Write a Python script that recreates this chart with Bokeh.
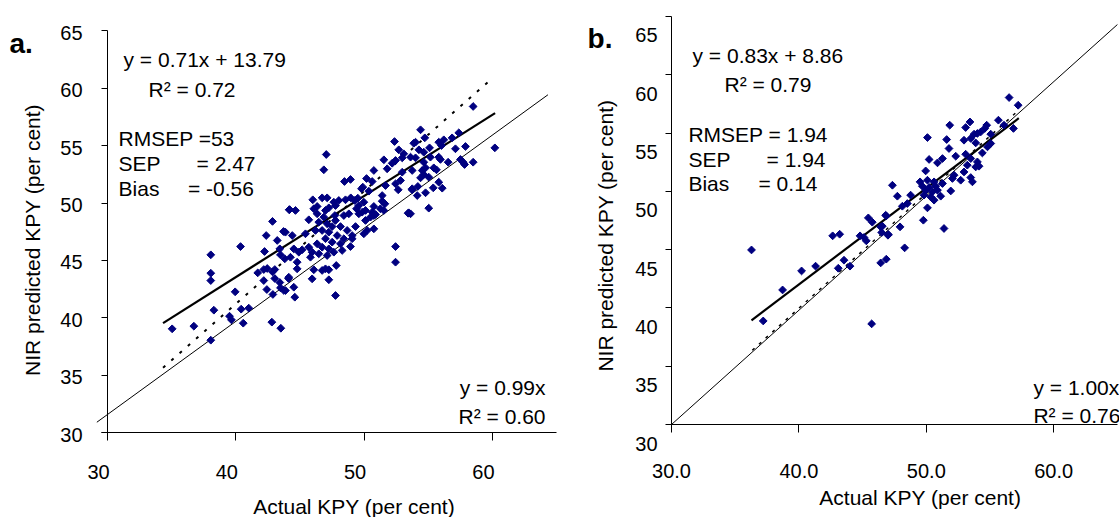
import numpy as np
from bokeh.plotting import figure
from bokeh.layouts import row
from bokeh.models import Range1d, FixedTicker
from bokeh.core.properties import value
from bokeh.embed import file_html
from bokeh.resources import INLINE

FONT = "Liberation Sans"
FS = "20px"      # tick labels
FT = "21px"      # annotations and axis titles
NAVY = "#000080"

# ---------------- Panel a data (Actual KPY, NIR predicted KPY) ----------------
a_actual = [
    35.04, 36.73, 38.05, 38.05, 38.05, 38.05, 38.29, 40.37, 39.95, 40.42, 41.01, 39.51, 39.66, 40.58,
    42.86, 42.37, 43.72, 43.23, 42.24, 43.43, 43.48, 43.82, 41.71, 42.18, 42.45, 43.04, 42.86, 42.18,
    43.04, 43.43, 42.42, 42.89, 43.48, 43.74, 44.11, 42.81, 43.51, 44.16,
    52.37, 47.05, 46.86, 53.87, 52.70, 53.09, 52.97, 52.45, 52.19, 51.54, 51.80, 50.76, 52.97, 48.94,
    48.47, 50.19, 50.63, 51.67, 52.45, 52.84, 52.66, 53.74, 49.90, 49.80, 50.37, 49.51, 48.96, 48.55,
    48.03, 47.64, 47.12, 46.73, 46.00, 47.77, 47.25, 46.34, 46.08, 44.19, 44.65, 49.59, 49.98, 50.11,
    50.76, 51.41, 51.62, 51.27, 50.63, 50.50, 50.89, 49.85, 49.41, 45.69, 46.34, 46.86, 46.99, 47.72,
    48.42, 48.81, 46.47, 47.12, 47.51, 48.16, 48.68, 49.33, 50.24, 50.76, 49.98, 49.07, 47.90, 47.25,
    46.73, 46.21, 45.43, 44.40, 43.87, 46.99, 47.51, 48.42, 48.16, 46.34, 45.69, 45.17, 44.52, 44.91,
    45.95, 46.73, 47.25, 46.47, 47.12, 47.64, 48.29, 48.94, 49.07, 44.26, 45.82, 44.78, 46.73, 46.99,
    47.25, 46.08, 44.78, 44.13, 45.95, 47.25, 47.83, 44.52, 44.60, 47.77, 43.87, 49.27, 47.77, 52.45,
    52.45, 53.43, 49.59, 50.11, 51.41, 50.76, 51.54,
    58.50, 54.40, 57.38, 54.73, 54.01, 55.82, 56.21, 56.86, 56.03, 55.10, 54.27, 54.65, 57.90, 57.12,
    60.19, 53.62, 54.01, 54.65, 55.17, 55.82, 55.95, 56.55, 57.51, 57.72, 57.83, 58.50, 53.75, 54.53,
    54.79, 55.43, 55.64, 54.65, 54.40, 55.04, 55.82, 53.75, 54.19, 55.39, 56.09, 54.79, 54.14, 55.04,
    53.62, 53.48,
]
a_predicted = [
    39.05, 39.28, 38.06, 45.49, 43.89, 43.25, 40.67, 46.21, 42.27, 40.76, 40.85, 40.15, 39.83, 39.54,
    48.40, 47.17, 47.52, 46.74, 45.78, 46.01, 45.49, 45.14, 43.92, 44.21, 44.30, 44.21, 44.01, 43.25,
    43.43, 43.08, 42.47, 42.04, 42.62, 42.39, 43.43, 39.63, 39.10, 49.41,
    55.35, 54.22, 52.89, 55.20, 54.63, 54.28, 53.93, 53.70, 53.46, 53.76, 52.98, 52.83, 52.68, 52.05,
    51.87, 52.13, 51.87, 51.52, 51.67, 51.96, 51.15, 51.15, 51.38, 51.24, 51.03, 50.42, 50.45, 50.28,
    50.22, 50.07, 50.45, 50.45, 50.28, 49.78, 49.58, 49.70, 49.50, 49.43, 49.35, 49.78, 50.07, 49.35,
    49.70, 50.16, 49.93, 49.50, 49.20, 48.77, 49.00, 49.20, 49.50, 48.54, 49.06, 48.77, 49.35, 48.91,
    48.91, 49.06, 48.33, 48.19, 47.95, 47.95, 47.61, 47.95, 47.61, 47.75, 47.32, 47.17, 47.17, 47.46,
    47.61, 47.61, 47.32, 47.17, 47.46, 46.89, 46.59, 46.89, 46.45, 46.45, 46.15, 45.93, 46.01, 45.72,
    45.72, 46.15, 46.01, 45.58, 45.43, 45.72, 45.87, 46.21, 46.89, 45.28, 45.28, 44.85, 44.13, 44.27,
    44.19, 44.19, 44.27, 43.54, 43.40, 43.32, 44.56, 42.67, 41.80, 41.95, 42.38, 50.22, 48.48, 46.21,
    44.85, 49.11, 49.06, 48.48, 50.65, 48.91, 49.35,
    58.40, 56.37, 56.11, 55.67, 55.29, 55.29, 55.50, 55.67, 55.00, 54.80, 54.63, 54.42, 54.92, 54.72,
    54.80, 53.99, 53.93, 53.55, 53.99, 53.99, 53.79, 53.55, 53.79, 53.55, 53.35, 53.55, 52.83, 52.83,
    53.06, 53.06, 52.89, 52.48, 52.19, 52.25, 51.81, 51.24, 51.44, 51.32, 51.29, 50.89, 50.65, 49.55,
    49.06, 49.15,
]

# fitted / reference lines of panel a (end points, data units)
a_fit_x = [34.33, 60.21]
a_fit_y = [39.54, 57.82]
a_dot_x = [34.33, 59.80]
a_dot_y = [35.66, 60.66]
a_one_x = [29.17, 64.33]
a_one_y = [30.92, 59.42]

# ---------------- Panel b data ----------------
b_actual = [
    36.28, 37.20, 38.72, 40.21, 41.31, 42.65, 43.20, 43.09, 43.54, 44.01, 44.80, 45.11, 45.29, 45.45,
    45.76, 45.71, 46.42, 46.86, 46.55, 46.50, 46.86, 47.02,
    56.50, 57.21, 55.66, 56.84, 56.10, 53.43, 53.09, 51.84, 54.74, 54.59, 54.01, 53.75, 53.49, 54.27,
    55.06, 52.96, 53.88, 55.06, 54.80, 50.09, 51.60, 51.78, 54.40, 52.31, 53.09, 53.49, 50.22, 51.27,
    50.88, 54.01, 53.22, 53.88, 54.14, 49.95, 52.96, 53.49, 53.62, 52.18, 52.05, 52.70, 51.27, 49.51,
    50.09, 50.61, 47.34, 49.69, 50.22, 50.74, 49.95, 50.48, 50.88, 51.92, 47.73, 48.77, 50.35, 51.13,
    50.61, 49.82, 48.12, 48.51, 50.09, 46.81, 46.42, 46.99, 47.94, 49.77, 51.39, 48.30,
]
b_predicted = [
    44.97, 38.88, 41.54, 43.17, 43.58, 46.18, 46.32, 43.40, 44.09, 43.58, 46.18, 46.04, 45.75, 47.72,
    47.35, 38.63, 43.86, 44.18, 47.01, 46.47, 47.89, 46.30,
    58.04, 57.38, 56.10, 55.39, 55.67, 55.95, 55.47, 55.67, 55.67, 55.39, 54.96, 54.90, 54.53, 55.09,
    54.90, 54.38, 54.15, 54.10, 53.81, 54.61, 54.44, 53.67, 53.29, 53.01, 53.18, 52.81, 52.73, 52.81,
    52.44, 52.52, 52.24, 52.09, 52.15, 51.75, 51.66, 51.18, 50.81, 51.38, 51.10, 50.95, 50.67, 50.81,
    50.95, 50.81, 50.52, 50.44, 50.33, 50.44, 50.09, 49.95, 50.09, 50.03, 49.58, 49.67, 49.52, 49.58,
    49.24, 49.67, 48.72, 48.95, 48.58, 47.95, 46.95, 46.23, 46.95, 47.52, 46.81, 45.15,
]

b_fit_x = [36.28, 57.26]
b_fit_y = [38.94, 56.27]
b_dot_x = [36.34, 57.26]
b_dot_y = [36.37, 56.96]
b_one_x = [30.0, 65.0]
b_one_y = [30.0, 64.3]

# ticks
y_ticks = [30, 35, 40, 45, 50, 55, 60, 65]
x_ticks = [30, 40, 50, 60]
a_xtick_labels = ["30", "40", "50", "60"]
a_ytick_labels = ["30", "35", "40", "45", "50", "55", "60", "65"]
b_xtick_labels = ["30.0", "40.0", "50.0", "60.0"]
b_ytick_labels = ["30", "35", "40", "45", "50", "55", "60", "65"]

x_title = "Actual KPY (per cent)"
y_title = "NIR predicted KPY (per cent)"

H = 517


def base_fig(width, ox, oy, sx, sy, y_axis_lo=30.0, x_axis_lo=30.0):
    """Figure whose frame is the whole canvas; the axes sit at (30, 30).
    ox, oy: canvas pixel of the data point (30, 30); sx, sy: pixels per unit."""
    xr = Range1d(30 - ox / sx, 30 + (width - ox) / sx)
    yr = Range1d(30 - (H - oy) / sy, 30 + oy / sy)
    p = figure(width=width, height=H, x_range=xr, y_range=yr, min_border=0,
               output_backend="svg", toolbar_location=None)
    p.xgrid.visible = False
    p.ygrid.visible = False
    p.outline_line_color = None
    p.background_fill_color = "white"
    p.border_fill_color = "white"
    for ax in (p.xaxis[0], p.yaxis[0]):
        ax.fixed_location = 30
        ax.axis_line_color = "black"
        ax.axis_line_width = 1
        ax.major_tick_line_color = "black"
        ax.minor_tick_line_color = None
        ax.major_tick_in = 0
        ax.major_label_text_font_size = "0px"
        ax.major_label_text_color = None
    p.xaxis.bounds = (x_axis_lo, 65)
    p.yaxis.bounds = (y_axis_lo, 65)
    p.xaxis.ticker = FixedTicker(ticks=x_ticks)
    p.yaxis.ticker = FixedTicker(ticks=y_ticks)
    p.xaxis.major_tick_out = 8
    p.yaxis.major_tick_out = 6
    return p


def txt(p, x, y, s, align="left", baseline="middle", dx=0, dy=0, size=FT, style="normal", angle=0.0):
    # dx, dy: screen pixel shifts (dy positive = downwards)
    p.text(x=[x], y=[y], text=[s], x_offset=dx, y_offset=dy,
           text_align=align, text_baseline=baseline, angle=angle,
           text_font=value(FONT), text_font_size=value(size), text_font_style=style,
           text_color="black")


# ---------------- Panel a ----------------
pa = base_fig(580, 107, 432.3, 12.83, 11.49, x_axis_lo=29.5)
pa.line(a_one_x, a_one_y, line_color="black", line_width=1)
pa.line(a_dot_x, a_dot_y, line_color="black", line_width=2, line_dash="3 8")
pa.line(a_fit_x, a_fit_y, line_color="black", line_width=2.2)
pa.scatter(a_actual, a_predicted, marker="square", angle=np.pi / 4, size=5.5,
           fill_color=NAVY, line_color=NAVY)

for v, t in zip(x_ticks, a_xtick_labels):
    txt(pa, v, 30, t, align="center", dx=-9, dy=39, size=FS)
for v, t in zip(y_ticks, a_ytick_labels):
    txt(pa, 30, v, t, align="right", dx=-25, dy=2, size=FS)

txt(pa, 31.25, 62.49, "y = 0.71x + 13.79")
txt(pa, 33.2, 59.88, "R² = 0.72")
txt(pa, 30.86, 55.61, "RMSEP =53")
txt(pa, 30.86, 53.44, "SEP")
txt(pa, 36.94, 53.44, "= 2.47")
txt(pa, 30.86, 51.27, "Bias")
txt(pa, 36.27, 51.27, "= -0.56")
txt(pa, 64.14, 33.97, "y = 0.99x", align="right")
txt(pa, 64.14, 31.44, "R² = 0.60", align="right")
txt(pa, 49.22, 30, x_title, align="center", dy=74)
txt(pa, 30, 46.78, y_title, align="center", dx=-75, angle=np.pi / 2)
txt(pa, 22.36, 63.88, "a.", baseline="alphabetic", size="28px", style="bold")

# ---------------- Panel b ----------------
pb = base_fig(539, 91, 424, 12.74, 11.66)
pb.line(b_one_x, b_one_y, line_color="black", line_width=1)
pb.line(b_dot_x, b_dot_y, line_color="black", line_width=1.5, line_dash="3 6")
pb.line(b_fit_x, b_fit_y, line_color="black", line_width=2.2)
pb.scatter(b_actual, b_predicted, marker="square", angle=np.pi / 4, size=5.5,
           fill_color=NAVY, line_color=NAVY)

for v, t in zip(x_ticks, b_xtick_labels):
    txt(pb, v, 30, t, align="center", dy=46, size=FS)
for v, t in zip(y_ticks, b_ytick_labels):
    txt(pb, 30, v, t, align="right", dx=-14, dy=19, size=FS)

txt(pb, 31.65, 61.65, "y = 0.83x + 8.86")
txt(pb, 34.16, 59.16, "R² = 0.79")
txt(pb, 31.33, 54.87, "RMSEP = 1.94")
txt(pb, 31.33, 52.73, "SEP")
txt(pb, 37.46, 52.73, "= 1.94")
txt(pb, 31.33, 50.67, "Bias")
txt(pb, 36.83, 50.67, "= 0.14")
txt(pb, 58.41, 33.2, "y = 1.00x")
txt(pb, 58.41, 30.77, "R² = 0.76")
txt(pb, 49.53, 30, x_title, align="center", dy=73)
txt(pb, 30, 46.2, y_title, align="center", dx=-66, angle=np.pi / 2)
txt(pb, 23.41, 63.1, "b.", baseline="alphabetic", size="28px", style="bold")

layout = row(pa, pb)
open("out.html", "w").write(file_html(layout, INLINE))
